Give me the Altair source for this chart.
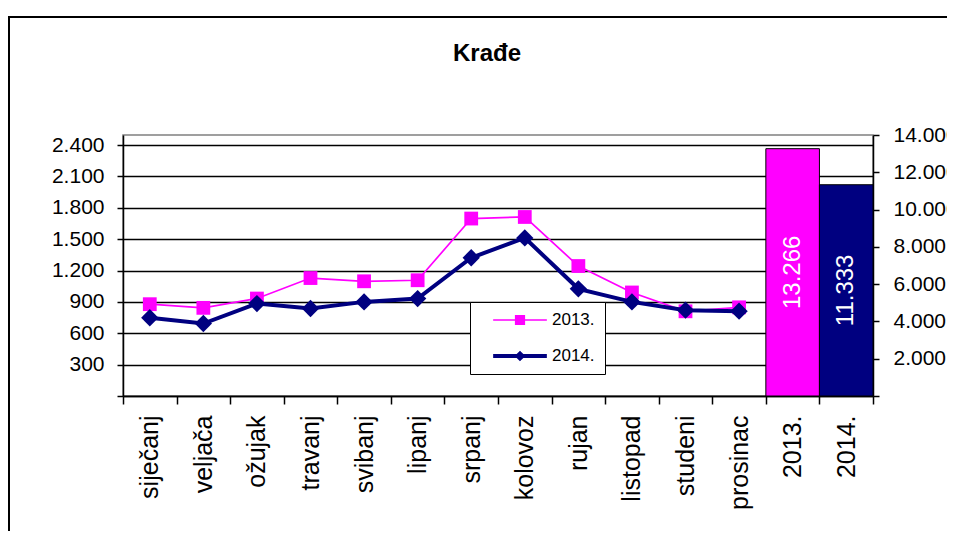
import altair as alt
import pandas as pd

# ---------------- data ----------------
months = ["siječanj", "veljača", "ožujak", "travanj", "svibanj", "lipanj",
          "srpanj", "kolovoz", "rujan", "listopad", "studeni", "prosinac"]
years = ["2013.", "2014."]
values_2013 = [878, 843, 932, 1128, 1097, 1107, 1697, 1712, 1243, 990, 810, 848]
values_2014 = [748, 693, 884, 837, 900, 932, 1322, 1512, 1025, 900, 821, 811]
totals = [13266, 11333]
left_ticks = [0, 300, 600, 900, 1200, 1500, 1800, 2100, 2400]
right_ticks = [0, 2000, 4000, 6000, 8000, 10000, 12000, 14000]
title_text = "Krađe"

categories = months + years

MAGENTA = "#FF00FF"
NAVY = "#000080"
FONT = "Liberation Sans"

monthly = pd.DataFrame({"kategorija": months, "y2013": values_2013, "y2014": values_2014})
annual = pd.DataFrame({"kategorija": years, "ukupno": totals})
legend_df = pd.DataFrame({"serija": years})

DOT_FMT = "datum.value == 0 ? '' : replace(format(datum.value, ','), ',', '.')"

x_scale = alt.Scale(type="band", domain=categories, paddingInner=0, paddingOuter=0)
x_axis = alt.Axis(title=None, labelAngle=270, labelAlign="right", labelBaseline="middle",
                  labelFontSize=25, labelFont=FONT, labelColor="black", labelPadding=11,
                  tickSize=8, tickBand="extent", tickColor="black", tickWidth=1.5,
                  labelOverlap=False, labelBound=False, domainColor="black", domainWidth=1.5,
                  grid=False)


def xe():
    return alt.X("kategorija:N", sort=categories, scale=x_scale, axis=x_axis)


y_left_scale = alt.Scale(domain=[0, 2496], nice=False, zero=True)
y_left_axis = alt.Axis(title=None, values=left_ticks, grid=True, gridColor="black", gridWidth=1.5,
                       gridOpacity=1, labelExpr=DOT_FMT, labelFontSize=21, labelFont=FONT,
                       labelColor="black", labelPadding=13, tickSize=6, tickColor="black",
                       tickWidth=1.5, domainColor="black", domainWidth=1.5)

y_right_scale = alt.Scale(domain=[0, 14000], nice=False, zero=True)
y_right_axis = alt.Axis(title=None, orient="right", values=right_ticks, grid=False,
                        labelExpr=DOT_FMT, labelFontSize=21, labelFont=FONT, labelColor="black",
                        labelPadding=14, tickSize=6, tickColor="black", tickWidth=1.5,
                        domainColor="black", domainWidth=1.5)


def yl(field):
    return alt.Y(field, scale=y_left_scale, axis=y_left_axis)


def yr(field):
    return alt.Y(field, scale=y_right_scale, axis=y_right_axis)


line13 = alt.Chart(monthly).mark_line(color=MAGENTA, strokeWidth=1.7).encode(x=xe(), y=yl("y2013:Q"))
pts13 = alt.Chart(monthly).mark_point(shape="square", filled=True, size=190, color=MAGENTA,
                                      opacity=1).encode(x=xe(), y=yl("y2013:Q"))
line14 = alt.Chart(monthly).mark_line(color=NAVY, strokeWidth=4).encode(x=xe(), y=yl("y2014:Q"))
pts14 = alt.Chart(monthly).mark_point(shape="diamond", filled=True, size=300, color=NAVY,
                                      opacity=1).encode(x=xe(), y=yl("y2014:Q"))
left = alt.layer(line13, pts13, line14, pts14)

# fill domain comes from the data (not an explicit list), so this hidden legend
# is not merged with the series legend below
bars = alt.Chart(annual).mark_bar(stroke="black", strokeWidth=1, opacity=1).encode(
    x=xe(), y=yr("ukupno:Q"),
    fill=alt.Fill("kategorija:N", scale=alt.Scale(range=[MAGENTA, NAVY]), legend=None))
bar_text = alt.Chart(annual).transform_calculate(
    sredina="datum.ukupno / 2",
    oznaka="replace(format(datum.ukupno, ','), ',', '.')"
).mark_text(angle=270, color="white", fontSize=24, font=FONT, align="center",
            baseline="middle").encode(x=xe(), y=yr("sredina:Q"), text="oznaka:N")
right = alt.layer(bars, bar_text)

# legend symbols: a line segment with the series marker on it
PATH13 = "M-1,-0.028H1V0.028H-1Z M-0.19,-0.19H0.19V0.19H-0.19Z"
PATH14 = "M-1,-0.075H1V0.075H-1Z M0,-0.2L0.2,0L0,0.2L-0.2,0Z"
leg = alt.Legend(title=None, orient="none", legendX=347, legendY=167, fillColor="white",
                 strokeColor="black", padding=10, symbolSize=2884,
                 symbolStrokeWidth=0, symbolOffset=13, labelOffset=5, clipHeight=16,
                 rowPadding=19, labelFontSize=17, labelFont=FONT, labelColor="black",
                 labelExpr="datum.label + '     '", cornerRadius=0)
legend_layer = alt.Chart(legend_df).transform_filter("false").mark_point(
    filled=True, opacity=1).encode(
    color=alt.Color("serija:N", scale=alt.Scale(domain=years, range=[MAGENTA, NAVY]), legend=leg),
    shape=alt.Shape("serija:N", scale=alt.Scale(domain=years, range=[PATH13, PATH14]), legend=leg))

frame = alt.Chart(alt.Data(values=[{}])).mark_rect(
    fill="transparent", stroke="black", strokeWidth=2).encode(
    x=alt.value(-114), x2=alt.value(850), y=alt.value(-118), y2=alt.value(420))

chart = alt.layer(left, right, legend_layer, frame).resolve_scale(
    y="independent"
).properties(
    width=750, height=261,
    autosize=alt.AutoSizeParams(type="none"),
    padding={"left": 115, "top": 127, "right": 74, "bottom": 135},
    background="white",
    title=alt.Title(title_text, fontSize=24, font=FONT, fontWeight="bold", color="black",
                    anchor="middle", frame="group", dx=-11, offset=-69, baseline="alphabetic"),
).configure_view(stroke="#808080", strokeWidth=1.5).configure_legend(strokeWidth=1)

chart.save("out.html", embed_options={"renderer": "svg", "actions": False})
